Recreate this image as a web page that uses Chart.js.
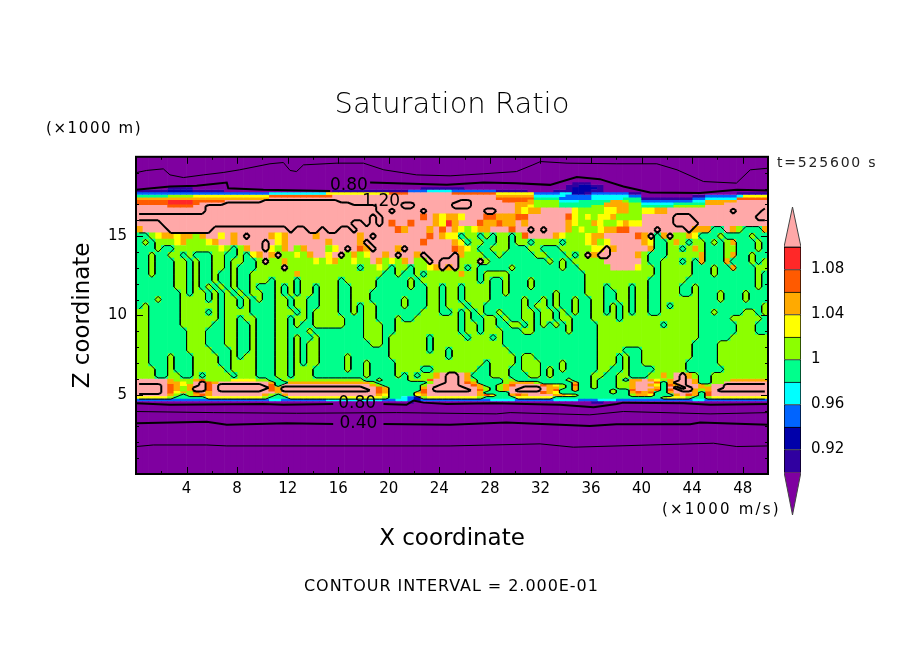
<!DOCTYPE html>
<html>
<head>
<meta charset="utf-8">
<title>Saturation Ratio</title>
<script src="https://cdn.jsdelivr.net/npm/chart.js@4"></script>
<style>
html,body{margin:0;padding:0;background:#fff}
#wrap{position:relative;width:904px;height:654px;overflow:hidden}
canvas{position:absolute;top:0}
</style>
</head>
<body>
<div id="wrap">
<canvas id="plot" width="904" height="654" style="left:0"></canvas>
<canvas id="bar" width="134" height="654" style="left:770px"></canvas>
</div>
<script>
// level classes, one letter per colour band
const levelKeys = ['P','I','N','B','C','G','L','Y','O','R','E','K','X']
const levelColors = ['#7f00a0','#3000a0','#0000aa','#0064ff','#00ffff','#00ff8c','#8cff00','#ffff00','#ffaa00','#ff5a00','#ff2828','#ffa8a8','#ffa8a8']

// saturation ratio classes, left to right, 0.5 km a column
const rowEdges = [20,18.4,18.24,18.08,17.92,17.76,17.6,17.44,17.28,17.12,16.96,16.8,
  16.4,16,15.6,15.2,14.8,14.4,14,13.6,13.2,12.8,12.4,12,11.6,11.2,10.8,10.4,10,9.6,9.2,8.8,8.4,8,7.6,7.2,6.8,6.4,6,
  5.84,5.68,5.52,5.36,5.2,5.04,4.88,4.72,4.56,4.4,0]
const rows = [
'P',
'PPPPPPPPPP PPPPPPPPPP PPPPPPPPPP PPPPPPPPPP PPPPPPPPPP PPPPPPPPPP PPPPPPPPPI IIPPPPPPPP PPPPPPPPPP PPPPPPPPPP',
'PPPPPPPPPP PPPPPPPPPP PPPPPPPPPP PPPPPPPPPP PPPPPPPPPP PPPPPPPPPP PPPPPPPPII NNIIPPPPPP PPPPPPPPPP PPPPPPPPPP',
'PPPPPIIIIP PPPPPPPPPP PPPPPPPPPP PPPPPPPPPP PPPPPIIIII IIPPPPPPPP PPPPPPPPIN NNNIPPPPPP PPPPPPPPPP PPPPPPPPPP',
'IIIIINNNNI IIIIPPPPPP PPPPPPPPPP PIIIIIIIII IIIBBBCCCC BBBBBBBIII IIPPPPIIIN NNIIPPPPPP PPPPPPPPPP PPPPPPPPPP',
'BBBBBBBBBB BBBBBBBBBB BCCCCCCCCC YYYYYYYYYY RRRKKKKKKK RRRRRRRYYY YYYBBBBCCN NIBBBBBBII PPPPPPPPPP PPPPPIIIII',
'GGGGGLLLLY YYYYYYYYYY YRRRRRRRRR RKKKKKKKKK KKKKKKKKKK KKKKKKKOOO OOOCCCCCBB BBCCCCCCBB PPPPPPPPII BBBBBCYYYY',
'OOOOOOOOOO OOOOOOOOOO OKKKKKKKKK KKKKKKKKKK KKKKKKKKKK KKKKKKKRRR RRRGGGGBBB BBCCCCCGGG IIIIIIIIBB CCCCCRRRRR',
'RRRRREEEER RRRRKKKKKK XXXXXXXXXX XXKKKKKKKK KKKKKKKKKK KXXKKKKKRR RROLLLLCCC GGGGGOOLGG BBBBBBBBCC OOOOOKKKKK',
'RRRRREEEER KKKKXXXXXX XXXXXXXXXX XXXXKKKKKK KKXXKKKKKK XXXKKKKKKK OOOLLLLGGG GGGGOOOOLL CCCCCGGGGG OOOKKKKKKK',
'KKKKKRRRRK KXXXXXXXXX XXXXXXXXXX XXXXXXXXKK KKXXKKKKKK XXXKKKKKKK OOYLLLLGGG GGLLOOOOLL GGGGGLLLLL KKKKKKKKKK',
'KKKKKKKKKK KXXXXXXXXX XXXXXXXXXX XXXXXXXXKK XKKKKXKKKK KKKKKXXKKK OYOOKKKKKY LLLLYYOOLL YYOOKKKKKK KKKKXKKKKX',
'XXXXXXXXXX XXXXXXXXXX XXXXXXXXXX XXXXXXXKXK KKKKKRKOYO OYKKKRROOO RRKKKKKKRY LYLYYOLLLL KKKKKXXXKK KKKKKKKKXX',
'KKKKXXXXXX XXXXXXXXXX XXXXXXXXXX XXXXKKXKXK RKKRKKKOYE OKKKROOROO KOKKKKKKOY LLOYLLYOYY KKKKKXXXXK KKKKKKKKKK',
'OKKKKXXXXX XXKKKKKKKK KKKKXKKXXK XXKKXKKKKK KROKKKOKRK OYLYOOKKKR KKXKXKKKOL YLLYOORRKK KKXKKKKXOO OGGKOLGGGO',
'GGLYOOYOOL OKKYKOKXKK KOYOKKKKOK KKKKKOKXKK KKKKKKRKOY YGLLGLGLLG LRKKKKOYLL LYOOKKKKKR OXGOXLLOYG GGLGGGGLGG',
'GLGLLLYOLL LYOKKOKKKK XKYOKKKKKK OKKKKOXKKK KKKKKRKKKK OYGLLGGLLG LLGLLLLGLL LYOLYKKKKK OYGGLOLGLL GLGLOGGGLG',
'GGGLGGLLLL LLLYLGLOKK XYLOKLOKKK LYKXKROXKK KOXKKKKKKK ROYLGGLLLG GGLLGGGLLL LLYYXOKKKK KOGGLLGLOL GGGLLGGGLG',
'GGLGGLLGLG GGLLGGLGYO KOXLLYLOKK YKXLOLYKKO KXKKOXKKKK XOLLLGGLGG GGGLLGGGLG LXOXXKKKKO LGGGLLLLLO GGGLOGGLGG',
'GGLGGGLLGL GGLLGLLGGL XLLOLLLLYL YOLLYLLKOL YLOKLLXKXX XLLLXLGGGG GGGGGLGLGL LLLLKKKKKK LGGLLLGLGO GGGOGGGLGL',
'GGLGGGLLGL GGLLGLGGGL LLLXLLLLLL LLLLLGLLYL GLLGLLYOXO XLGLGGGGGL GGGGGGGLGG LLLLLKKKKY LLGLLLLLGG GLGGOGGGLL',
'GGLGGGLLGL GGLGGLGGLL LLLLLOLLLL LLLLLLLLLG GLGGLGLLLL LOLLGLLLLG GGGGGGGGGG GLLLLLLLLL LLGLLLLLGG GLGGGGGGLG',
'GGGGGGLLGL GGLGGLGGLL LGLLLGLLLL LLGLLLLLGG GGGLGLLLLL LLLLGLGGLG GGLGGGGGGG GLLLLLLLLL LGGLLLLGGG GGGGGGGGLG',
'GGGGGGLLGL GLGLGLGGLG GGLGLGLLGL LLGGLLLLGG GGGLGGLLGL LGLLLLGGLG GGLGGGGGGG GLLLGLLLGL LGGLLLGGLG GGGGGGGGLG',
'GGGGGGGLGL LGLGLGLGLL GGLGLGLLGL LLGGLLLGGG GGGGGGLLGL LGLLLLGGLG GGGGGGLGGG GLLLGGLLGL LGGLLLGGLG GGLGGGLGGG',
'GGGLGGGLLL LGLGLLGLGL GGLLGLLGGL LLGGLLLGGG GGLGGGLLGL LGLLLLGGGG GLGGLGLGGL GGLLGGLLGL LGGLLLLLLG GGLGGGLGGG',
'GLGGGGGLLL LLLGLLGLGG GGLLGLLGGL LLGGLGLLGG GGLGGGLLGL LLGLLGGGGG GLGLLGLGGL GGLLGLGLGL LGGLGLLLLG GGGGGGGGGL',
'LLGGGGGLLL LGLGLLLLGG GGLLLGLGLL LLGGLGLLGG GGGGGLLLGG LGLGLGGLGG GLLGLLGLGL GGLLGLGLGL LGGLLLLLLG GLGGGGLLGL',
'LLGGGGGLLL LLLGLLGLLG GGLLGLLGLL LLLGGGLLGG GLGGLLLLLL LGLGGLLGLG GLLGLLGLLG GGLLLLGLLL LLLLLLLLLG GGGGLLLLLG',
'LLGGGGGLLL LLGGLLGGLG GGLLGLGGLL LLLGGGLLLG GLLLLLLLLL LGLLGLLGGL LGLGLGLGLG GGGLLLLLLL LLLGLLLLLG GGGGGLLLGG',
'LLGGGGGGLL LGGGLLGGLG GGLLGGGLGG GGGGGGLLLG GLLLLLLLLL LGLLGLLLGG GLLGGGGGLG GGGLLLLLLL LLLLLLLLLG GGGGGLLLGG',
'LLGGGGGGLL LGGGLLGGLG GGLLGLGGLG GGGGGGLLLG LLLLLLGLLL LLGLLLGLGG GGGGGGGGGG GGGLLLLLLL LLLLLLLLLG GGGGLLLLLL',
'LLGGGGGGLL LGGGLLGGLG GGLLGLGLLG GGGGGGGLLG LLLLLLGLLL LLLLLLLLGG GGGGGGGGGG GGGLLLLLLL LLLLLLLLGG GGLLLLLLLL',
'LLGGGGGGLL LLGGGLGGLG GGLLGLGLLG GGGGGGGGGG LLLLLLGLLG LLLLLLLLLG GGGGGGGGGG GGGLLLLGGG LLLLLLLLGG GGLLLLLLLL',
'LLGGGLGGGL LLLGGLGLLG GGLLGLGLLG GGGLGGGGGG LLLLLLLLLG LLLLLLLLLL GLLGGGGGGG GGGLLLGLGG LLLLLLLLGG GGLLLLLLLL',
'LLGGGLGGGL LLLGGLLLLG GGLLGLGLLG GGGLGGLGGG GLLLLLLLLL LLLLLGLLLL GLLLGGGLGG GGGLLLGLGG LLLLLLLGGG GGLLLLLLLL',
'LLLGGLGGGL LLLLGLLLLG GGLLGLLLGG GGGLGGLGGG GLLLLGGLLL LLLLGGLLLG GLLLGLGLGG GGGLLGGLGG GGLLLLLGGG GGGLLLLLLL',
'LLLGGLLGGL GLLLLGLLLG GGLLGLLLGG GGGGGGLGGG GLGLGLLOKX XKOGGGLLLG GGLLGLGGGG GGLLGGLLGG GLLOLKXOLG GLLLLLLLLL',
'KKKKKOLLLO RLLLLYYYYL LGGLLLLLLL LLLLLLGGLG GGGLLLRKKX XKOLGGGGLL GGGGGGGGLG GGLGGGLGOO KOYLOKXKOG GLLLOOOOOO',
'KKKKKOOYLK XROKKKKKKK KOGGOOOOOO OOOOOOOLGG GGGGGGLKKX XKROGGGGLO OOOLGGGGGO GGLGGGLLOK KKRGOXXKOG GLLKKKKKKK',
'XXXXKROYOK XRKXXXXXXX KRGKKKKKKK KKKKKKKOLG GGGGGLKKXX XKKROGGLOR KKKKROYLGR GGLGGGLLOK KOYGROXKKO LKKXXXXXXX',
'XXXXKROLOX XRKXXXXXXX XROXXXXXXX XXXXXXKKRO GGGGGOKXXX XXKKOLGLOK KXXXKOOLGO GGLGGGLLOK KKOGKXKXKO OKKXXXXXXX',
'XXXXKROLOX XRKXXXXXXX KROXXXXXXX XXXXXXXKRO GGGGGRKXXX XXXKRLGLOK XXXXKORGGO GGGGGLGGRK KORGRKXXOL OKXXXXXXXX',
'XXXXKRYOLR KOKKKKKKKK KKOKKKKKKK KKKKKKKKRO GGGGORKKKK KKKKOGGGGK KKKKROYGGG GGGGGLGGOR ORGGOKKKOG RKKKKKKKKK',
'KKKKKOLGLO ROKKKKKKKK OLGOKKKKKK KKKKKKKKOY GGGGYOKKKK KKKKORYGGO ROKKKKOOYL GGGGGGGGLO OYGGGOKROG RKKKKKKKKK',
'YYYYYLGGGG GYYYYYYYYY LGGGYYYYYY YYYYYYYYYL GGCBNLYYYY YYYYLGGGGG YYYYYYGGGG GGGGGGGGGG GGGLYYYLGG LYYYYYYYYY',
'BBBBBBBBBB BBBBBBBBBB BCCBBBBBBB CCCCCCCCCB BCCBNBBBBB BBBBBBCCCC BBBBBBCCCC BBBCCCBBBB BBBBBBBBCC BBBBBBBBBB',
'PPPPPPPPPP PPPPPPPPPP PPPPPPPPPP PPPPPPPPPP PPPIPPPPPP PPPPPPPPPP PPPPPPPPPP PPIIPPPPPP PPPPPPPPPP PPPPPPPPPP',
'P'
]

// contour lines outside the streaky layer, [km, km z] pairs
const line020Top = [[0,19],[0.84,19.14],[2.16,19.24],[2.69,18.86],[3.75,18.69],[5.33,18.86],[6.9,19.01],[8.2,19.18],[10.6,19.56],[11.66,19.64],[12.19,19.14],[12.7,19.07],[13.25,19.49],[15.9,19.6],[18,19.6],[19.6,19.18],[22.2,18.86],[24.85,18.8],[27.5,18.93],[30.1,19.07],[31.4,19.49],[32,19.7],[34.1,19.6],[38,19.56],[41.2,19.56],[42.8,19.18],[44.9,18.44],[47.5,18.34],[48.6,19.18],[50,19.28]]
const line080Top = [[0,17.92],[2.69,18.13],[4.8,18.17],[7.18,18.38],[7.3,18.02],[10.08,17.92],[15.36,17.85],[NaN,NaN],[18.52,18.38],[24.6,18.23],[27.5,18.38],[30.1,18.34],[32.76,18.23],[34.87,18.72],[36.7,18.59],[38.56,18.13],[40.67,17.75],[44.63,17.71],[47.53,17.92],[50,17.87]]
const line080Low = [[0,4.46],[2.69,4.36],[10.08,4.42],[11.66,4.36],[15.6,4.42],[NaN,NaN],[19.58,4.42],[21.4,4.36],[21.95,4.63],[22.74,4.5],[24.6,4.42],[28.27,4.46],[33.55,4.36],[36.2,4.21],[38.03,4.42],[38.56,4.5],[43.31,4.46],[45.42,4.36],[50,4.42]]
const line060Low = [[0,3.94],[6.12,3.87],[12.7,3.83],[20.6,3.87],[28.5,3.79],[29.6,3.87],[35.9,3.73],[38.56,3.94],[45.42,3.79],[50,3.87]]
const line040Low = [[0,3.2],[5.6,3.3],[7.18,3.1],[11.93,3.2],[15.6,3.16],[NaN,NaN],[19.58,3.16],[24.84,3.1],[29.3,3.24],[35.9,3.03],[38,3.14],[43.84,3.14],[44.63,3.24],[50,3.1]]
const line020Low = [[0,1.73],[1.37,1.83],[5.6,1.83],[7.18,1.77],[24.85,1.77],[31.96,1.9],[34.6,1.69],[40.67,1.83],[45.68,1.94],[47.53,1.73],[50,1.77]]

const contourLabels = [['0.80',16.85,18.17],['1.20',19.4,17.2],['0.80',17.5,4.42],['0.40',17.6,3.15]]

const xTickValues = [4,8,12,16,20,24,28,32,36,40,44,48]
const yTickValues = [5,10,15]
const xMinorTicks = [2,6,10,14,18,22,26,30,34,38,42,46]
const yMinorTicks = [1,2,3,4,6,7,8,9,11,12,13,14,16,17,18,19]

// colour bar
const barEdges = [0.90,0.92,0.94,0.96,0.98,1,1.02,1.04,1.06,1.08,1.10]
const barColors = ['#3000a0','#0000aa','#0064ff','#00ffff','#00ff8c','#8cff00','#ffff00','#ffaa00','#ff5a00','#ff2828']
const barTicks = [0.92,0.96,1,1.04,1.08]
const barLabels = ['0.92','0.96','1','1.04','1.08']

const FONT = '"DejaVu Sans"'

const grid = rows.map(r=>{
    var s = r.replace(/ /g,'')
    return s.padEnd(100,s[s.length-1]).slice(0,100)
})
const colCount = 100
const colX = j=>(j+0.5)*0.5

// one floating bar per run of equal class in a column
function buildCells(){
    var out = levelKeys.map(()=>[])
    for(var j=0;j<colCount;j++){
        var i=0
        while(i<grid.length){
            var k = grid[i][j], start = i
            while(i<grid.length && grid[i][j]==k) i++
            out[levelKeys.indexOf(k)].push({x:colX(j),y:[rowEdges[i],rowEdges[start]+0.03]})
        }
    }
    return out
}

// marching squares over the class grid, cell centres as nodes
function contourSegments(inside,firstRow,lastRow){
    var pts = []
    var zc = i=>(rowEdges[i]+rowEdges[i+1])/2
    for(var i=firstRow;i<lastRow;i++){
        for(var j=0;j<colCount-1;j++){
            var a = inside.includes(grid[i][j]), b = inside.includes(grid[i][j+1])
            var c = inside.includes(grid[i+1][j+1]), d = inside.includes(grid[i+1][j])
            if(a==b && b==c && c==d) continue
            var T = {x:colX(j)+0.25,y:zc(i)}, R = {x:colX(j+1),y:(zc(i)+zc(i+1))/2}
            var B = {x:colX(j)+0.25,y:zc(i+1)}, L = {x:colX(j),y:(zc(i)+zc(i+1))/2}
            var segs = []
            if(a!=b) segs.push(T)
            if(b!=c) segs.push(R)
            if(c!=d) segs.push(B)
            if(d!=a) segs.push(L)
            pts.push(segs[0],segs[1],{x:NaN,y:NaN})
            if(segs.length==4) pts.push(segs[2],segs[3],{x:NaN,y:NaN})
        }
    }
    return pts
}

function lineData(list){ return list.map(p=>({x:p[0],y:p[1]})) }
function lineSet(list,width){
    return {type:'scatter',showLine:true,data:list,borderColor:'#000',borderWidth:width,pointRadius:0,order:0,spanGaps:false}
}

const cells = buildCells()
var datasets = levelKeys.map((k,i)=>({
    label:k,data:cells[i],backgroundColor:levelColors[i],
    grouped:false,barPercentage:1.1,categoryPercentage:1,order:1
}))
datasets.push(lineSet(contourSegments('LYOREKX',11,47),1))
datasets.push(lineSet(contourSegments('X',1,47),2))
datasets.push(lineSet(lineData(line020Top),1))
datasets.push(lineSet(lineData(line080Top),2))
datasets.push(lineSet(lineData(line080Low),2))
datasets.push(lineSet(lineData(line060Low),1))
datasets.push(lineSet(lineData(line040Low),2))
datasets.push(lineSet(lineData(line020Low),1))

// free text outside the axes
const notes = [
    {text:'(×1000 m)',x:46,y:129,font:'15px ',spacing:1.6},
    {text:'(×1000 m/s)',x:662,y:510,font:'15px ',spacing:2.2},
    {text:'t=525600 s',x:777,y:163,font:'14px ',spacing:1.8,color:'#222'},
    {text:'CONTOUR INTERVAL = 2.000E-01',x:304,y:587,font:'16px ',spacing:0.95}
]

const framePlugin = {
    id:'frame',
    afterDraw(chart){
        const c = chart.ctx, a = chart.chartArea, xs = chart.scales.x, ys = chart.scales.y
        c.save()
        c.strokeStyle = '#000'
        c.lineWidth = 1
        c.beginPath()
        xMinorTicks.concat(xTickValues).forEach(v=>{
            var len = xTickValues.includes(v) ? 7 : 3
            var px = Math.round(xs.getPixelForValue(v))+0.5
            c.moveTo(px,a.bottom); c.lineTo(px,a.bottom-len)
            c.moveTo(px,a.top); c.lineTo(px,a.top+len)
        })
        yMinorTicks.concat(yTickValues).forEach(v=>{
            var len = yTickValues.includes(v) ? 7 : 3
            var py = Math.round(ys.getPixelForValue(v))+0.5
            c.moveTo(a.left,py); c.lineTo(a.left+len,py)
            c.moveTo(a.right,py); c.lineTo(a.right-len,py)
        })
        c.stroke()
        c.lineWidth = 2
        c.strokeRect(a.left,a.top,a.right-a.left,a.bottom-a.top)

        c.fillStyle = '#000'
        c.textAlign = 'center'
        c.textBaseline = 'middle'
        c.font = '17px '+FONT
        contourLabels.forEach(l=>{
            c.fillText(l[0],xs.getPixelForValue(l[1]),ys.getPixelForValue(l[2]))
        })
        c.textAlign = 'left'
        notes.forEach(n=>{
            c.font = n.font+FONT
            c.letterSpacing = n.spacing+'px'
            c.fillStyle = n.color || '#000'
            c.fillText(n.text,n.x,n.y)
        })
        c.restore()
    }
}

new Chart(document.getElementById('plot'),{
    type:'bar',
    data:{datasets:datasets},
    plugins:[framePlugin],
    options:{
        responsive:false,animation:false,devicePixelRatio:1,
        layout:{padding:{top:85,left:0,right:0,bottom:0}},
        plugins:{
            legend:{display:false},
            tooltip:{enabled:false},
            title:{display:true,text:'Saturation Ratio',color:'#000',
                font:{family:FONT,size:29,weight:'200',lineHeight:1.2},
                padding:{top:3,bottom:34}}
        },
        scales:{
            x:{
                type:'linear',min:0,max:50,offset:false,
                grid:{display:false,drawTicks:false,offset:false},border:{display:false},
                afterBuildTicks(s){ s.ticks = xTickValues.map(v=>({value:v})) },
                afterFit(s){ s.height = 180 },
                ticks:{color:'#000',padding:6,maxRotation:0,autoSkip:false,font:{family:FONT,size:15}},
                title:{display:true,text:'X coordinate',color:'#000',font:{family:FONT,size:23,lineHeight:1.2},padding:{top:0,bottom:101}}
            },
            y:{
                min:0,max:20,
                grid:{display:false,drawTicks:false},border:{display:false},
                afterBuildTicks(s){ s.ticks = yTickValues.map(v=>({value:v})) },
                afterFit(s){ s.width = 136 },
                ticks:{color:'#000',padding:9,autoSkip:false,font:{family:FONT,size:15}},
                title:{display:true,text:'Z coordinate',color:'#000',font:{family:FONT,size:23,lineHeight:1.2},padding:{top:69,bottom:0}}
            },
            right:{
                position:'right',display:true,
                grid:{display:false,drawTicks:false},border:{display:false},
                ticks:{display:false},
                afterFit(s){ s.width = 136 }
            }
        }
    }
})

// colour bar, its own small chart
var barSets = barColors.map((col,i)=>({
    data:[{x:0.5,y:[barEdges[i],barEdges[i+1]]}],backgroundColor:col,
    borderColor:'#000',borderWidth:1,grouped:false,barPercentage:1,categoryPercentage:1,order:1
}))
function arrowSet(tip,base,col){
    return {type:'scatter',showLine:true,fill:'shape',data:[{x:0,y:base},{x:0.5,y:tip},{x:1,y:base},{x:0,y:base}],
        backgroundColor:col,borderColor:'#444',borderWidth:1,pointRadius:0,order:2}
}
barSets.push(arrowSet(1.1356,1.10,'#ffa8a8'))
barSets.push(arrowSet(0.8618,0.90,'#7f00a0'))

new Chart(document.getElementById('bar'),{
    type:'bar',
    data:{datasets:barSets},
    options:{
        responsive:false,animation:false,devicePixelRatio:1,
        layout:{padding:{top:207,left:14,right:0,bottom:139}},
        plugins:{legend:{display:false},tooltip:{enabled:false}},
        scales:{
            x:{type:'linear',min:0,max:1,offset:false,display:false,grid:{offset:false},ticks:{stepSize:1}},
            y:{
                position:'right',min:0.8618,max:1.1356,
                grid:{display:false,drawTicks:false},border:{display:false},
                afterBuildTicks(s){ s.ticks = barTicks.map(v=>({value:v})) },
                afterFit(s){ s.width = 103 },
                ticks:{color:'#000',padding:10,autoSkip:false,font:{family:FONT,size:15},
                    callback:v=>barLabels[barTicks.findIndex(t=>Math.abs(t-v)<0.001)]}
            }
        }
    }
})
</script>
</body>
</html>
